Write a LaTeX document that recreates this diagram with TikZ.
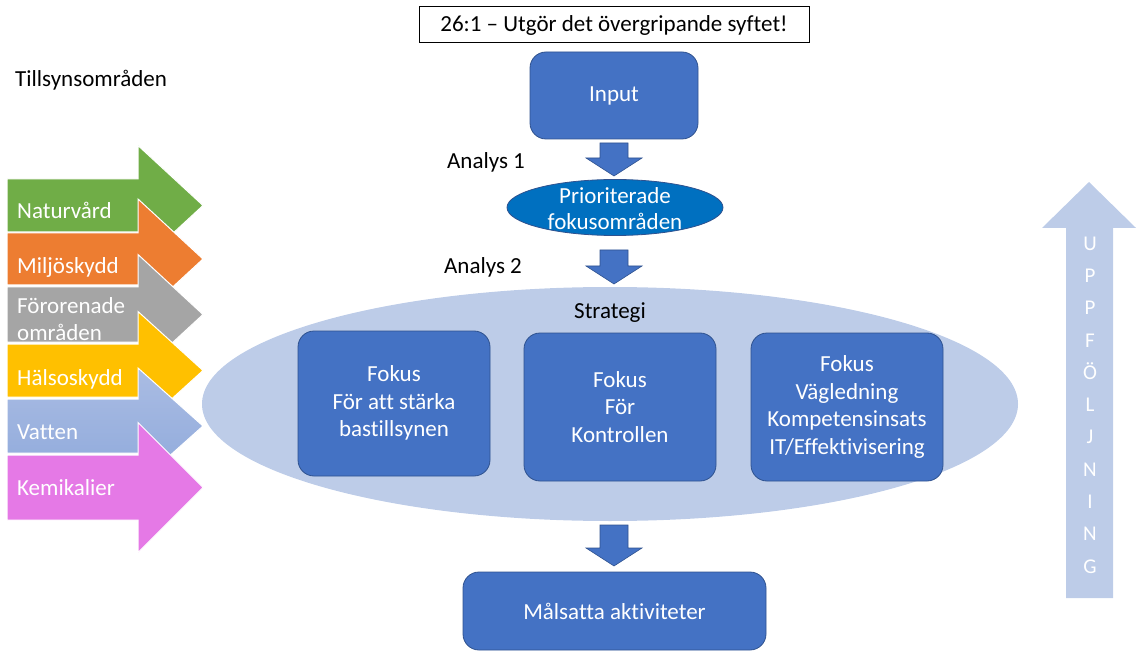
\documentclass[tikz,border=0pt]{standalone}
\usepackage{fontspec}
\setmainfont{Carlito}[Ligatures=NoCommon]
\usetikzlibrary{shapes.geometric,calc}
\definecolor{boxblue}{HTML}{4472C4}
\definecolor{boxborder}{HTML}{2F528F}
\definecolor{ellblue}{HTML}{0070C0}
\definecolor{pale}{HTML}{BDCCE8}
\definecolor{cgreen}{HTML}{70AD47}
\definecolor{corange}{HTML}{ED7D31}
\definecolor{cgray}{HTML}{A5A5A5}
\definecolor{cyellow}{HTML}{FFC000}
\definecolor{cvattop}{HTML}{AABCE3}
\definecolor{cvatbot}{HTML}{8EA9DB}
\definecolor{cpink}{HTML}{E579E6}
\newcommand{\sidearrow}[4]{% fill options, top y, bottom y, head half height
  \path[#1, draw=white, line width=1pt]
    (7,#2) -- (138,#2) -- (138,{(#2+#3)/2-#4}) -- (203,{(#2+#3)/2})
    -- (138,{(#2+#3)/2+#4}) -- (138,#3) -- (7,#3) -- cycle;}
\newcommand{\downblock}[2]{% start coordinate, end coordinate
  \path[fill=boxblue, draw=boxborder, line width=0.6pt]
    ($(#1)+(-14,0)$) -- ($(#1)+(14,0)$) -- ($(#2)+(14,-18)$) -- ($(#2)+(28,-18)$)
    -- (#2) -- ($(#2)+(-28,-18)$) -- ($(#2)+(-14,-18)$) -- cycle;}
\begin{document}
\begin{tikzpicture}[x=1pt,y=-1pt,
  every node/.style={font=\fontsize{23}{27.5}\selectfont},
  bluebox/.style={rectangle, rounded corners=16pt, fill=boxblue, draw=boxborder,
    line width=0.8pt, text=white, align=center},
  sidelabel/.style={text=white, anchor=base west, inner sep=0pt, align=left},
  plain/.style={text=black, inner sep=0pt}]
\useasboundingbox (0,0) rectangle (1140,652);

% title and heading
\node[draw=black, line width=1pt, minimum width=390pt, minimum height=36pt, inner sep=0pt]
  (title) at (614,25) {\raisebox{-2pt}{26:1 – Utgör det övergripande syftet!}};
\node[plain, anchor=west] (tillsyn) at (15,80) {Tillsynsområden};

% left arrows
\sidearrow{fill=cgreen}{179}{232}{60}
\node[sidelabel] (natur) at (17,219) {Naturvård};
\sidearrow{fill=corange}{233}{285}{60}
\node[sidelabel] (miljo) at (17,273) {Miljöskydd};
\sidearrow{fill=cgray}{287}{342}{60}
\node[sidelabel] (foror) at (17,313) {Förorenade};
\node[sidelabel] (omr) at (17,340) {områden};
\sidearrow{fill=cyellow}{344}{397}{59}
\node[sidelabel] (halso) at (17,385) {Hälsoskydd};
\sidearrow{top color=cvattop, bottom color=cvatbot}{399}{453}{58}
\node[sidelabel] (vatten) at (17,439) {Vatten};
\sidearrow{fill=cpink}{455}{520}{65}
\node[sidelabel] (kemi) at (17,495) {Kemikalier};

% central flow
\node[bluebox, minimum width=168pt, minimum height=87pt] (input) at (614,95.5)
  {\raisebox{-3pt}{Input}};
\node[ellipse, fill=ellblue, draw=boxborder, line width=0.8pt,
  minimum width=216pt, minimum height=56pt, inner sep=0pt] (prio) at (615,207.5) {};
\node[text=white, align=center, inner sep=0pt, font=\fontsize{23}{26}\selectfont]
  (priotext) at (615,209) {Prioriterade\\fokusområden};
\node[plain] (an1) at (486,162) {Analys 1};
\node[plain] (an2) at (483,267) {Analys 2};

\coordinate (a1s) at (614,143);
\coordinate (a1e) at (614,176);
\downblock{a1s}{a1e}
\coordinate (a2s) at (614,250);
\coordinate (a2e) at (614,284);
\downblock{a2s}{a2e}

\node[ellipse, fill=pale, minimum width=816pt, minimum height=234pt, inner sep=0pt]
  (strat) at (610,404) {};
\node[plain] (strattext) at (610,313) {Strategi};

\node[bluebox, minimum width=192pt, minimum height=145pt] (f1) at (394,403.5)
  {\raisebox{-2pt}{\begin{tabular}{@{}c@{}}Fokus\\För att stärka\\bastillsynen\end{tabular}}};
\node[bluebox, minimum width=192pt, minimum height=148pt] (f2) at (620,407)
  {Fokus\\För\\Kontrollen};
\node[bluebox, minimum width=192pt, minimum height=148pt] (f3) at (847,407)
  {Fokus\\Vägledning\\Kompetensinsats\\IT/Effektivisering};

\coordinate (a3s) at (614,525);
\coordinate (a3e) at (614,566);
\downblock{a3s}{a3e}
\node[bluebox, minimum width=303pt, minimum height=78pt] (mal) at (614.5,611)
  {\raisebox{-2pt}{Målsatta aktiviteter}};

% follow-up arrow
\path[fill=pale] (1066,598) -- (1066,228) -- (1042,228) -- (1089,182) -- (1136,228)
  -- (1113,228) -- (1113,598) -- cycle;
\node[text=white, align=center, inner sep=0pt,
  font=\fontsize{21}{32.3}\selectfont] (uppf) at (1090,405)
  {U\\P\\P\\F\\Ö\\L\\J\\N\\I\\N\\G};
\end{tikzpicture}
\end{document}
